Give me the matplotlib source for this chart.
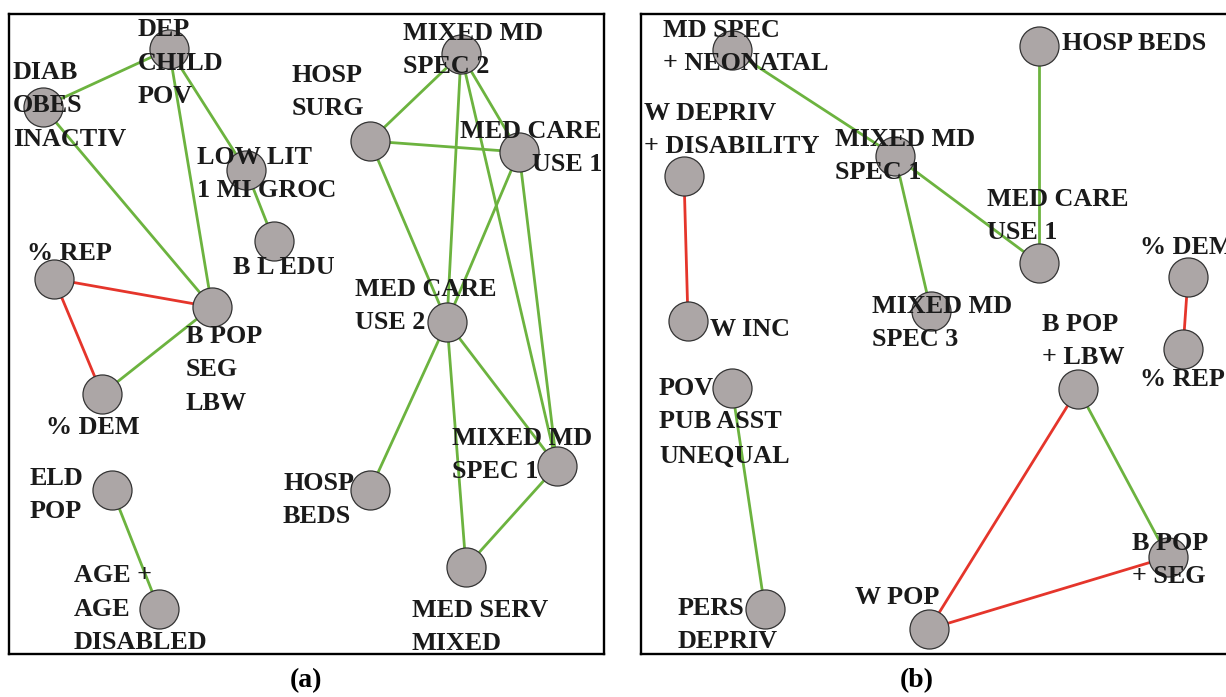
import matplotlib.pyplot as plt

# ---- panel (a) network ----
a_nodes = ["DEP\nCHILD\nPOV", "DIAB\nOBES\nINACTIV", "LOW LIT\n1 MI GROC", "B L EDU",
           "% REP", "B POP\nSEG\nLBW", "% DEM", "ELD\nPOP", "AGE +\nAGE\nDISABLED",
           "MIXED MD\nSPEC 2", "HOSP\nSURG", "MED CARE\nUSE 1", "MED CARE\nUSE 2",
           "HOSP\nBEDS", "MIXED MD\nSPEC 1", "MED SERV\nMIXED"]
a_x = [169, 43, 246, 274, 54, 212, 102, 112, 159, 461, 370, 519, 447, 370, 557, 466]
a_y = [49, 107, 170, 241, 279, 307, 394, 490, 609, 54, 141, 152, 322, 490, 466, 567]
a_edges = [(0, 1), (0, 2), (0, 5), (1, 5), (2, 3), (4, 5), (4, 6), (6, 5), (7, 8),
           (9, 10), (9, 11), (9, 12), (9, 14), (10, 11), (10, 12), (11, 12), (11, 14),
           (12, 13), (12, 14), (12, 15), (14, 15)]
a_sign = ["+", "+", "+", "+", "+", "-", "-", "+", "+",
          "+", "+", "+", "+", "+", "+", "+", "+", "+", "+", "+", "+"]

# ---- panel (b) network ----
b_nodes = ["MD SPEC\n+ NEONATAL", "W DEPRIV\n+ DISABILITY", "W INC", "MIXED MD\nSPEC 1",
           "HOSP BEDS", "MED CARE\nUSE 1", "% DEM", "MIXED MD\nSPEC 3", "% REP",
           "B POP\n+ LBW", "B POP\n+ SEG", "W POP", "POV\nPUB ASST\nUNEQUAL", "PERS\nDEPRIV"]
b_x = [732, 684, 688, 895, 1039, 1039, 1188, 931, 1183, 1078, 1168, 929, 732, 765]
b_y = [50, 176, 321, 156, 46, 263, 277, 311, 349, 389, 557, 629, 388, 609]
b_edges = [(0, 3), (3, 5), (3, 7), (4, 5), (1, 2), (12, 13), (6, 8), (9, 10), (9, 11), (11, 10)]
b_sign = ["+", "+", "+", "+", "-", "+", "-", "+", "-", "-"]

# label anchor points (x, y, horizontal alignment)
a_lab = [(138, 63, "left"), (13, 106, "left"), (197, 174, "left"), (233, 268, "left"),
         (27, 253, "left"), (186, 370, "left"), (46, 427, "left"), (30, 495, "left"),
         (74, 609, "left"), (403, 50, "left"), (292, 92, "left"), (602, 148, "right"),
         (355, 306, "left"), (283, 500, "left"), (452, 455, "left"), (412, 627, "left")]
b_lab = [(663, 47, "left"), (644, 130, "left"), (710, 329, "left"), (835, 156, "left"),
         (1062, 43, "left"), (987, 216, "left"), (1140, 247, "left"), (872, 323, "left"),
         (1140, 380, "left"), (1042, 341, "left"), (1132, 560, "left"), (855, 598, "left"),
         (659, 422, "left"), (678, 625, "left")]

GREEN = "#6cb33f"
RED = "#e5352b"
NODE = "#aca6a6"
W, H = 1226, 697

fig = plt.figure(figsize=(W / 100, H / 100), dpi=100)
plt.rcParams['font.family'] = ['Liberation Serif', 'DejaVu Serif']


def draw_panel(left, right, nodes, xs, ys, edges, signs, labels):
    ax = fig.add_axes([left / W, (H - 654) / H, (right - left) / W, 640 / H])
    ax.set_xlim(left, right)
    ax.set_ylim(654, 14)
    ax.set_xticks([])
    ax.set_yticks([])
    for s in ax.spines.values():
        s.set_linewidth(1.7)
        s.set_color("black")
    for (i, j), sg in zip(edges, signs):
        ax.plot([xs[i], xs[j]], [ys[i], ys[j]], color=GREEN if sg == "+" else RED,
                lw=2.0, zorder=1, solid_capstyle="butt")
    ax.scatter(xs, ys, s=790, c=NODE, edgecolors="#333333", linewidths=0.9, zorder=2)
    for name, (lx, ly, ha) in zip(nodes, labels):
        ax.text(lx, ly, name, ha=ha, va="center", multialignment=ha,
                fontsize=18.8, fontweight="bold", color="#1a1a1a",
                linespacing=1.6, zorder=3)
    return ax


draw_panel(9, 604, a_nodes, a_x, a_y, a_edges, a_sign, a_lab)
draw_panel(641, 1240, b_nodes, b_x, b_y, b_edges, b_sign, b_lab)

fig.text(306 / W, 1 - 681 / H, "(a)", ha="center", va="center", fontsize=20, fontweight="bold")
fig.text(917 / W, 1 - 681 / H, "(b)", ha="center", va="center", fontsize=20, fontweight="bold")

fig.savefig("out.png", dpi=100)
